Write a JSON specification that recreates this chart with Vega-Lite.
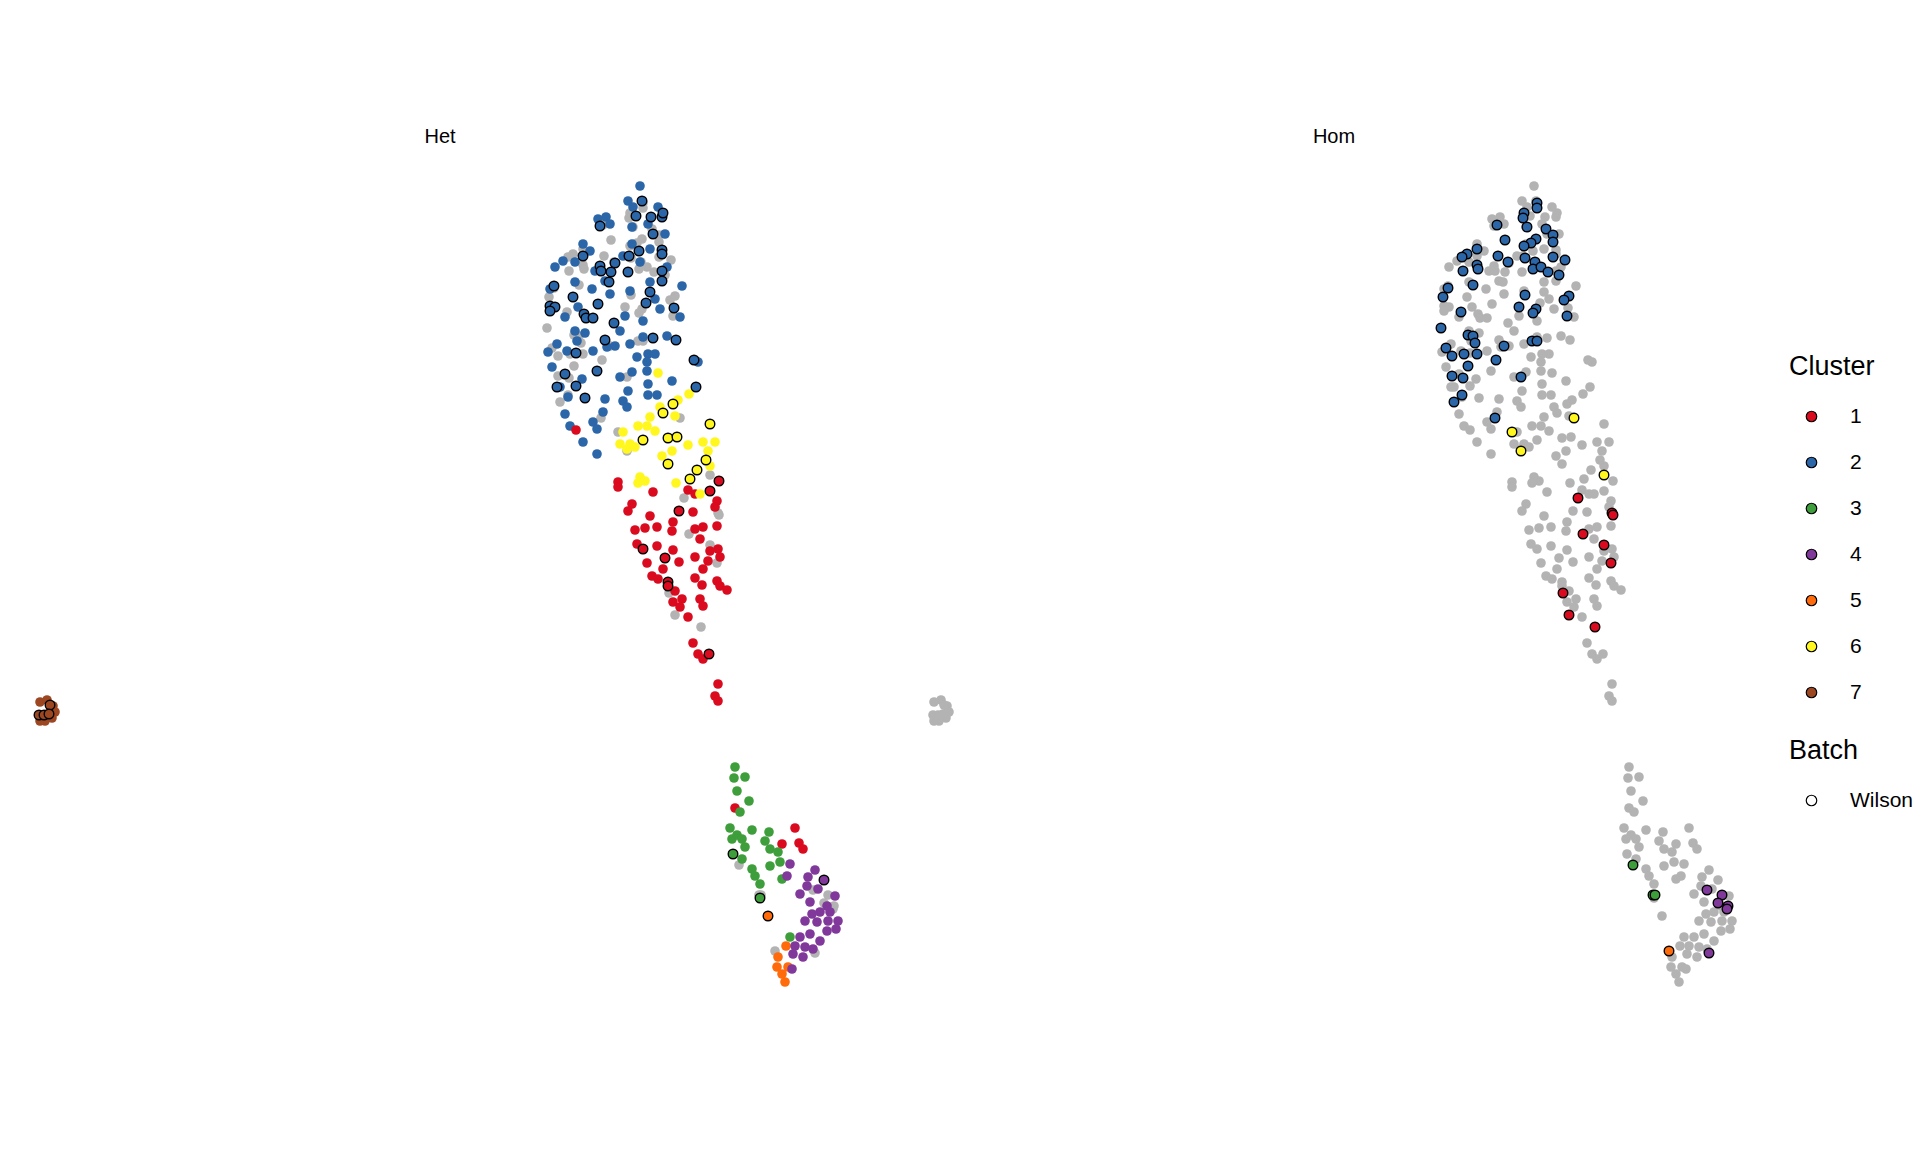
{
"$schema": "https://vega.github.io/schema/vega-lite/v6.json",
"background": "white",
"padding": {"left": 5, "top": 127, "right": 0, "bottom": 0},
"config": {
 "view": {"stroke": null},
 "font": "Liberation Sans",
 "concat": {"spacing": 24},
 "title": {"font": "Liberation Sans", "fontSize": 20, "fontWeight": "normal", "color": "black", "anchor": "middle", "offset": 12},
 "legend": {"titleFont": "Liberation Sans", "titleFontSize": 27, "titleFontWeight": "normal", "titleColor": "black", "labelFont": "Liberation Sans", "labelFontSize": 21, "labelColor": "black", "symbolSize": 110, "symbolType": "circle", "symbolOffset": 12, "labelOffset": 28, "rowPadding": 24, "titlePadding": 25, "symbolStrokeWidth": 1.2}
},
"datasets": {
"cells": [
{"g":"Het","x":640,"y":187,"c":2},{"g":"Het","x":628,"y":202,"c":2},{"g":"Het","x":633,"y":208,"c":2},{"g":"Het","x":658,"y":208,"c":2},{"g":"Het","x":598,"y":220,"c":2},{"g":"Het","x":606,"y":218,"c":2},{"g":"Het","x":610,"y":225,"c":2},{"g":"Het","x":632,"y":228,"c":2},{"g":"Het","x":648,"y":225,"c":2},{"g":"Het","x":665,"y":235,"c":2},{"g":"Het","x":583,"y":245,"c":2},{"g":"Het","x":632,"y":245,"c":2},{"g":"Het","x":650,"y":250,"c":2},{"g":"Het","x":555,"y":268,"c":2},{"g":"Het","x":563,"y":262,"c":2},{"g":"Het","x":575,"y":263,"c":2},{"g":"Het","x":590,"y":252,"c":2},{"g":"Het","x":623,"y":257,"c":2},{"g":"Het","x":640,"y":263,"c":2},{"g":"Het","x":667,"y":268,"c":2},{"g":"Het","x":595,"y":272,"c":2},{"g":"Het","x":575,"y":283,"c":2},{"g":"Het","x":605,"y":282,"c":2},{"g":"Het","x":650,"y":283,"c":2},{"g":"Het","x":682,"y":287,"c":2},{"g":"Het","x":550,"y":290,"c":2},{"g":"Het","x":592,"y":290,"c":2},{"g":"Het","x":610,"y":295,"c":2},{"g":"Het","x":630,"y":292,"c":2},{"g":"Het","x":655,"y":300,"c":2},{"g":"Het","x":578,"y":308,"c":2},{"g":"Het","x":660,"y":310,"c":2},{"g":"Het","x":625,"y":317,"c":2},{"g":"Het","x":643,"y":322,"c":2},{"g":"Het","x":680,"y":318,"c":2},{"g":"Het","x":565,"y":318,"c":2},
{"g":"Het","x":620,"y":332,"c":2},{"g":"Het","x":575,"y":332,"c":2},{"g":"Het","x":585,"y":334,"c":2},{"g":"Het","x":577,"y":342,"c":2},{"g":"Het","x":548,"y":353,"c":2},{"g":"Het","x":557,"y":345,"c":2},{"g":"Het","x":567,"y":352,"c":2},{"g":"Het","x":593,"y":352,"c":2},{"g":"Het","x":607,"y":348,"c":2},{"g":"Het","x":615,"y":347,"c":2},{"g":"Het","x":630,"y":345,"c":2},{"g":"Het","x":643,"y":338,"c":2},{"g":"Het","x":667,"y":337,"c":2},{"g":"Het","x":637,"y":358,"c":2},{"g":"Het","x":648,"y":355,"c":2},{"g":"Het","x":655,"y":355,"c":2},{"g":"Het","x":647,"y":363,"c":2},{"g":"Het","x":647,"y":372,"c":2},{"g":"Het","x":552,"y":368,"c":2},{"g":"Het","x":582,"y":380,"c":2},{"g":"Het","x":620,"y":378,"c":2},{"g":"Het","x":632,"y":373,"c":2},{"g":"Het","x":672,"y":382,"c":2},{"g":"Het","x":648,"y":385,"c":2},{"g":"Het","x":560,"y":388,"c":2},{"g":"Het","x":568,"y":398,"c":2},{"g":"Het","x":605,"y":400,"c":2},{"g":"Het","x":628,"y":392,"c":2},{"g":"Het","x":623,"y":402,"c":2},{"g":"Het","x":627,"y":408,"c":2},{"g":"Het","x":648,"y":396,"c":2},{"g":"Het","x":657,"y":396,"c":2},{"g":"Het","x":698,"y":363,"c":2},{"g":"Het","x":603,"y":413,"c":2},{"g":"Het","x":565,"y":415,"c":2},{"g":"Het","x":593,"y":423,"c":2},{"g":"Het","x":570,"y":427,"c":2},{"g":"Het","x":597,"y":430,"c":2},{"g":"Het","x":583,"y":443,"c":2},{"g":"Het","x":597,"y":455,"c":2},
{"g":"Het","x":642,"y":202,"c":2,"b":"Wilson"},{"g":"Het","x":636,"y":217,"c":2,"b":"Wilson"},{"g":"Het","x":651,"y":218,"c":2,"b":"Wilson"},{"g":"Het","x":662,"y":218,"c":2,"b":"Wilson"},{"g":"Het","x":663,"y":214,"c":2,"b":"Wilson"},{"g":"Het","x":600,"y":227,"c":2,"b":"Wilson"},{"g":"Het","x":653,"y":235,"c":2,"b":"Wilson"},{"g":"Het","x":639,"y":252,"c":2,"b":"Wilson"},{"g":"Het","x":629,"y":257,"c":2,"b":"Wilson"},{"g":"Het","x":662,"y":251,"c":2,"b":"Wilson"},{"g":"Het","x":662,"y":255,"c":2,"b":"Wilson"},{"g":"Het","x":583,"y":257,"c":2,"b":"Wilson"},{"g":"Het","x":600,"y":267,"c":2,"b":"Wilson"},{"g":"Het","x":615,"y":264,"c":2,"b":"Wilson"},{"g":"Het","x":601,"y":272,"c":2,"b":"Wilson"},{"g":"Het","x":611,"y":273,"c":2,"b":"Wilson"},{"g":"Het","x":628,"y":273,"c":2,"b":"Wilson"},{"g":"Het","x":609,"y":283,"c":2,"b":"Wilson"},{"g":"Het","x":662,"y":272,"c":2,"b":"Wilson"},{"g":"Het","x":662,"y":282,"c":2,"b":"Wilson"},{"g":"Het","x":554,"y":287,"c":2,"b":"Wilson"},{"g":"Het","x":573,"y":298,"c":2,"b":"Wilson"},{"g":"Het","x":650,"y":293,"c":2,"b":"Wilson"},{"g":"Het","x":598,"y":305,"c":2,"b":"Wilson"},{"g":"Het","x":646,"y":304,"c":2,"b":"Wilson"},{"g":"Het","x":674,"y":309,"c":2,"b":"Wilson"},{"g":"Het","x":550,"y":307,"c":2,"b":"Wilson"},{"g":"Het","x":555,"y":308,"c":2,"b":"Wilson"},{"g":"Het","x":550,"y":312,"c":2,"b":"Wilson"},{"g":"Het","x":584,"y":315,"c":2,"b":"Wilson"},{"g":"Het","x":586,"y":319,"c":2,"b":"Wilson"},{"g":"Het","x":593,"y":319,"c":2,"b":"Wilson"},{"g":"Het","x":614,"y":324,"c":2,"b":"Wilson"},{"g":"Het","x":605,"y":341,"c":2,"b":"Wilson"},{"g":"Het","x":653,"y":339,"c":2,"b":"Wilson"},{"g":"Het","x":676,"y":341,"c":2,"b":"Wilson"},{"g":"Het","x":576,"y":354,"c":2,"b":"Wilson"},{"g":"Het","x":597,"y":372,"c":2,"b":"Wilson"},{"g":"Het","x":565,"y":375,"c":2,"b":"Wilson"},{"g":"Het","x":557,"y":388,"c":2,"b":"Wilson"},{"g":"Het","x":576,"y":387,"c":2,"b":"Wilson"},{"g":"Het","x":585,"y":399,"c":2,"b":"Wilson"},{"g":"Het","x":694,"y":361,"c":2,"b":"Wilson"},{"g":"Het","x":696,"y":388,"c":2,"b":"Wilson"},
{"g":"Het","x":576,"y":431,"c":1},{"g":"Het","x":618,"y":483,"c":1},{"g":"Het","x":618,"y":488,"c":1},{"g":"Het","x":653,"y":493,"c":1},{"g":"Het","x":688,"y":491,"c":1},{"g":"Het","x":695,"y":495,"c":1},{"g":"Het","x":717,"y":502,"c":1},{"g":"Het","x":715,"y":508,"c":1},{"g":"Het","x":632,"y":505,"c":1},{"g":"Het","x":628,"y":512,"c":1},{"g":"Het","x":650,"y":517,"c":1},{"g":"Het","x":673,"y":523,"c":1},{"g":"Het","x":693,"y":513,"c":1},{"g":"Het","x":635,"y":531,"c":1},{"g":"Het","x":645,"y":529,"c":1},{"g":"Het","x":657,"y":528,"c":1},{"g":"Het","x":672,"y":532,"c":1},{"g":"Het","x":695,"y":530,"c":1},{"g":"Het","x":703,"y":528,"c":1},{"g":"Het","x":717,"y":527,"c":1},{"g":"Het","x":700,"y":540,"c":1},{"g":"Het","x":637,"y":545,"c":1},{"g":"Het","x":657,"y":547,"c":1},{"g":"Het","x":673,"y":551,"c":1},{"g":"Het","x":695,"y":558,"c":1},{"g":"Het","x":710,"y":552,"c":1},{"g":"Het","x":718,"y":550,"c":1},{"g":"Het","x":720,"y":558,"c":1},{"g":"Het","x":647,"y":564,"c":1},{"g":"Het","x":663,"y":570,"c":1},{"g":"Het","x":679,"y":563,"c":1},{"g":"Het","x":708,"y":562,"c":1},{"g":"Het","x":703,"y":570,"c":1},{"g":"Het","x":652,"y":577,"c":1},{"g":"Het","x":658,"y":580,"c":1},{"g":"Het","x":695,"y":579,"c":1},{"g":"Het","x":702,"y":586,"c":1},{"g":"Het","x":717,"y":582,"c":1},{"g":"Het","x":720,"y":587,"c":1},{"g":"Het","x":727,"y":591,"c":1},{"g":"Het","x":675,"y":592,"c":1},{"g":"Het","x":682,"y":600,"c":1},{"g":"Het","x":700,"y":600,"c":1},{"g":"Het","x":673,"y":603,"c":1},{"g":"Het","x":680,"y":608,"c":1},{"g":"Het","x":703,"y":607,"c":1},{"g":"Het","x":688,"y":618,"c":1},{"g":"Het","x":693,"y":644,"c":1},{"g":"Het","x":698,"y":655,"c":1},{"g":"Het","x":703,"y":660,"c":1},{"g":"Het","x":718,"y":685,"c":1},{"g":"Het","x":715,"y":697,"c":1},{"g":"Het","x":718,"y":702,"c":1},{"g":"Het","x":735,"y":809,"c":1},{"g":"Het","x":795,"y":829,"c":1},{"g":"Het","x":782,"y":845,"c":1},{"g":"Het","x":799,"y":844,"c":1},{"g":"Het","x":803,"y":850,"c":1},
{"g":"Het","x":719,"y":482,"c":1,"b":"Wilson"},{"g":"Het","x":710,"y":492,"c":1,"b":"Wilson"},{"g":"Het","x":679,"y":512,"c":1,"b":"Wilson"},{"g":"Het","x":643,"y":550,"c":1,"b":"Wilson"},{"g":"Het","x":665,"y":559,"c":1,"b":"Wilson"},{"g":"Het","x":668,"y":583,"c":1,"b":"Wilson"},{"g":"Het","x":668,"y":587,"c":1,"b":"Wilson"},{"g":"Het","x":709,"y":655,"c":1,"b":"Wilson"},
{"g":"Het","x":658,"y":374,"c":6},{"g":"Het","x":689,"y":395,"c":6},{"g":"Het","x":678,"y":401,"c":6},{"g":"Het","x":660,"y":408,"c":6},{"g":"Het","x":675,"y":417,"c":6},{"g":"Het","x":650,"y":418,"c":6},{"g":"Het","x":638,"y":427,"c":6},{"g":"Het","x":647,"y":427,"c":6},{"g":"Het","x":655,"y":432,"c":6},{"g":"Het","x":623,"y":433,"c":6},{"g":"Het","x":620,"y":445,"c":6},{"g":"Het","x":630,"y":445,"c":6},{"g":"Het","x":635,"y":448,"c":6},{"g":"Het","x":627,"y":450,"c":6},{"g":"Het","x":672,"y":452,"c":6},{"g":"Het","x":662,"y":457,"c":6},{"g":"Het","x":688,"y":446,"c":6},{"g":"Het","x":703,"y":443,"c":6},{"g":"Het","x":715,"y":443,"c":6},{"g":"Het","x":708,"y":452,"c":6},{"g":"Het","x":710,"y":467,"c":6},{"g":"Het","x":640,"y":478,"c":6},{"g":"Het","x":645,"y":482,"c":6},{"g":"Het","x":638,"y":484,"c":6},{"g":"Het","x":676,"y":484,"c":6},{"g":"Het","x":700,"y":495,"c":6},
{"g":"Het","x":673,"y":405,"c":6,"b":"Wilson"},{"g":"Het","x":663,"y":414,"c":6,"b":"Wilson"},{"g":"Het","x":710,"y":425,"c":6,"b":"Wilson"},{"g":"Het","x":643,"y":441,"c":6,"b":"Wilson"},{"g":"Het","x":668,"y":439,"c":6,"b":"Wilson"},{"g":"Het","x":677,"y":438,"c":6,"b":"Wilson"},{"g":"Het","x":706,"y":461,"c":6,"b":"Wilson"},{"g":"Het","x":668,"y":465,"c":6,"b":"Wilson"},{"g":"Het","x":697,"y":471,"c":6,"b":"Wilson"},{"g":"Het","x":690,"y":480,"c":6,"b":"Wilson"},
{"g":"Het","x":735,"y":768,"c":3},{"g":"Het","x":734,"y":779,"c":3},{"g":"Het","x":745,"y":778,"c":3},{"g":"Het","x":737,"y":792,"c":3},{"g":"Het","x":749,"y":802,"c":3},{"g":"Het","x":740,"y":813,"c":3},{"g":"Het","x":730,"y":829,"c":3},{"g":"Het","x":737,"y":836,"c":3},{"g":"Het","x":742,"y":840,"c":3},{"g":"Het","x":732,"y":840,"c":3},{"g":"Het","x":745,"y":848,"c":3},{"g":"Het","x":742,"y":860,"c":3},{"g":"Het","x":752,"y":831,"c":3},{"g":"Het","x":769,"y":833,"c":3},{"g":"Het","x":765,"y":842,"c":3},{"g":"Het","x":770,"y":850,"c":3},{"g":"Het","x":778,"y":853,"c":3},{"g":"Het","x":780,"y":863,"c":3},{"g":"Het","x":770,"y":867,"c":3},{"g":"Het","x":752,"y":870,"c":3},{"g":"Het","x":755,"y":877,"c":3},{"g":"Het","x":760,"y":885,"c":3},{"g":"Het","x":782,"y":880,"c":3},{"g":"Het","x":790,"y":938,"c":3},
{"g":"Het","x":733,"y":855,"c":3,"b":"Wilson"},{"g":"Het","x":760,"y":899,"c":3,"b":"Wilson"},
{"g":"Het","x":786,"y":947,"c":5},{"g":"Het","x":778,"y":958,"c":5},{"g":"Het","x":777,"y":968,"c":5},{"g":"Het","x":788,"y":968,"c":5},{"g":"Het","x":782,"y":975,"c":5},{"g":"Het","x":785,"y":983,"c":5},
{"g":"Het","x":768,"y":917,"c":5,"b":"Wilson"},
{"g":"Het","x":790,"y":865,"c":4},{"g":"Het","x":787,"y":877,"c":4},{"g":"Het","x":815,"y":871,"c":4},{"g":"Het","x":808,"y":878,"c":4},{"g":"Het","x":807,"y":887,"c":4},{"g":"Het","x":818,"y":890,"c":4},{"g":"Het","x":835,"y":897,"c":4},{"g":"Het","x":810,"y":903,"c":4},{"g":"Het","x":827,"y":907,"c":4},{"g":"Het","x":820,"y":913,"c":4},{"g":"Het","x":830,"y":913,"c":4},{"g":"Het","x":817,"y":923,"c":4},{"g":"Het","x":805,"y":922,"c":4},{"g":"Het","x":828,"y":922,"c":4},{"g":"Het","x":838,"y":922,"c":4},{"g":"Het","x":827,"y":932,"c":4},{"g":"Het","x":800,"y":938,"c":4},{"g":"Het","x":810,"y":935,"c":4},{"g":"Het","x":820,"y":942,"c":4},{"g":"Het","x":795,"y":947,"c":4},{"g":"Het","x":805,"y":948,"c":4},{"g":"Het","x":813,"y":950,"c":4},{"g":"Het","x":793,"y":955,"c":4},{"g":"Het","x":803,"y":958,"c":4},{"g":"Het","x":792,"y":970,"c":4},{"g":"Het","x":800,"y":895,"c":4},{"g":"Het","x":812,"y":915,"c":4},{"g":"Het","x":836,"y":930,"c":4},
{"g":"Het","x":824,"y":881,"c":4,"b":"Wilson"},
{"g":"Het","x":40,"y":703,"c":7},{"g":"Het","x":47,"y":701,"c":7},{"g":"Het","x":53,"y":707,"c":7},{"g":"Het","x":55,"y":713,"c":7},{"g":"Het","x":40,"y":722,"c":7},{"g":"Het","x":45,"y":722,"c":7},{"g":"Het","x":52,"y":719,"c":7},
{"g":"Het","x":50,"y":706,"c":7,"b":"Wilson"},{"g":"Het","x":39,"y":716,"c":7,"b":"Wilson"},{"g":"Het","x":44,"y":716,"c":7,"b":"Wilson"},{"g":"Het","x":49,"y":715,"c":7,"b":"Wilson"},
{"g":"Hom","x":643,"y":204,"c":2,"b":"Wilson"},{"g":"Hom","x":643,"y":209,"c":2,"b":"Wilson"},{"g":"Hom","x":630,"y":214,"c":2,"b":"Wilson"},{"g":"Hom","x":629,"y":219,"c":2,"b":"Wilson"},{"g":"Hom","x":603,"y":226,"c":2,"b":"Wilson"},{"g":"Hom","x":633,"y":228,"c":2,"b":"Wilson"},{"g":"Hom","x":652,"y":230,"c":2,"b":"Wilson"},{"g":"Hom","x":659,"y":236,"c":2,"b":"Wilson"},{"g":"Hom","x":659,"y":243,"c":2,"b":"Wilson"},{"g":"Hom","x":611,"y":241,"c":2,"b":"Wilson"},{"g":"Hom","x":642,"y":240,"c":2,"b":"Wilson"},{"g":"Hom","x":637,"y":244,"c":2,"b":"Wilson"},{"g":"Hom","x":630,"y":247,"c":2,"b":"Wilson"},{"g":"Hom","x":583,"y":250,"c":2,"b":"Wilson"},{"g":"Hom","x":573,"y":255,"c":2,"b":"Wilson"},{"g":"Hom","x":568,"y":258,"c":2,"b":"Wilson"},{"g":"Hom","x":604,"y":257,"c":2,"b":"Wilson"},{"g":"Hom","x":614,"y":263,"c":2,"b":"Wilson"},{"g":"Hom","x":631,"y":259,"c":2,"b":"Wilson"},{"g":"Hom","x":641,"y":263,"c":2,"b":"Wilson"},{"g":"Hom","x":659,"y":258,"c":2,"b":"Wilson"},{"g":"Hom","x":671,"y":261,"c":2,"b":"Wilson"},{"g":"Hom","x":583,"y":266,"c":2,"b":"Wilson"},{"g":"Hom","x":584,"y":270,"c":2,"b":"Wilson"},{"g":"Hom","x":569,"y":272,"c":2,"b":"Wilson"},{"g":"Hom","x":639,"y":270,"c":2,"b":"Wilson"},{"g":"Hom","x":647,"y":268,"c":2,"b":"Wilson"},{"g":"Hom","x":654,"y":273,"c":2,"b":"Wilson"},{"g":"Hom","x":665,"y":276,"c":2,"b":"Wilson"},{"g":"Hom","x":579,"y":286,"c":2,"b":"Wilson"},{"g":"Hom","x":554,"y":289,"c":2,"b":"Wilson"},{"g":"Hom","x":549,"y":298,"c":2,"b":"Wilson"},{"g":"Hom","x":631,"y":296,"c":2,"b":"Wilson"},{"g":"Hom","x":675,"y":297,"c":2,"b":"Wilson"},{"g":"Hom","x":670,"y":301,"c":2,"b":"Wilson"},{"g":"Hom","x":625,"y":308,"c":2,"b":"Wilson"},{"g":"Hom","x":642,"y":310,"c":2,"b":"Wilson"},{"g":"Hom","x":639,"y":314,"c":2,"b":"Wilson"},{"g":"Hom","x":673,"y":317,"c":2,"b":"Wilson"},{"g":"Hom","x":567,"y":313,"c":2,"b":"Wilson"},{"g":"Hom","x":547,"y":329,"c":2,"b":"Wilson"},{"g":"Hom","x":574,"y":336,"c":2,"b":"Wilson"},{"g":"Hom","x":579,"y":337,"c":2,"b":"Wilson"},{"g":"Hom","x":581,"y":344,"c":2,"b":"Wilson"},{"g":"Hom","x":552,"y":349,"c":2,"b":"Wilson"},{"g":"Hom","x":558,"y":357,"c":2,"b":"Wilson"},{"g":"Hom","x":570,"y":355,"c":2,"b":"Wilson"},{"g":"Hom","x":583,"y":355,"c":2,"b":"Wilson"},{"g":"Hom","x":610,"y":347,"c":2,"b":"Wilson"},{"g":"Hom","x":638,"y":342,"c":2,"b":"Wilson"},{"g":"Hom","x":643,"y":342,"c":2,"b":"Wilson"},{"g":"Hom","x":602,"y":361,"c":2,"b":"Wilson"},{"g":"Hom","x":574,"y":367,"c":2,"b":"Wilson"},{"g":"Hom","x":558,"y":377,"c":2,"b":"Wilson"},{"g":"Hom","x":569,"y":379,"c":2,"b":"Wilson"},{"g":"Hom","x":627,"y":378,"c":2,"b":"Wilson"},{"g":"Hom","x":568,"y":396,"c":2,"b":"Wilson"},{"g":"Hom","x":560,"y":403,"c":2,"b":"Wilson"},{"g":"Hom","x":601,"y":419,"c":2,"b":"Wilson"},
{"g":"Hom","x":680,"y":419,"c":6,"b":"Wilson"},{"g":"Hom","x":618,"y":433,"c":6,"b":"Wilson"},{"g":"Hom","x":627,"y":452,"c":6,"b":"Wilson"},{"g":"Hom","x":710,"y":476,"c":6,"b":"Wilson"},
{"g":"Hom","x":684,"y":499,"c":1,"b":"Wilson"},{"g":"Hom","x":718,"y":514,"c":1,"b":"Wilson"},{"g":"Hom","x":719,"y":516,"c":1,"b":"Wilson"},{"g":"Hom","x":689,"y":535,"c":1,"b":"Wilson"},{"g":"Hom","x":710,"y":546,"c":1,"b":"Wilson"},{"g":"Hom","x":717,"y":564,"c":1,"b":"Wilson"},{"g":"Hom","x":669,"y":594,"c":1,"b":"Wilson"},{"g":"Hom","x":675,"y":616,"c":1,"b":"Wilson"},{"g":"Hom","x":701,"y":628,"c":1,"b":"Wilson"},
{"g":"Hom","x":739,"y":866,"c":3,"b":"Wilson"},{"g":"Hom","x":759,"y":896,"c":3,"b":"Wilson"},{"g":"Hom","x":761,"y":896,"c":3,"b":"Wilson"},
{"g":"Hom","x":813,"y":891,"c":4,"b":"Wilson"},{"g":"Hom","x":828,"y":896,"c":4,"b":"Wilson"},{"g":"Hom","x":824,"y":904,"c":4,"b":"Wilson"},{"g":"Hom","x":834,"y":907,"c":4,"b":"Wilson"},{"g":"Hom","x":833,"y":910,"c":4,"b":"Wilson"},{"g":"Hom","x":815,"y":954,"c":4,"b":"Wilson"},
{"g":"Hom","x":775,"y":952,"c":5,"b":"Wilson"}
]
},
"data": {"name": "cells"},
"hconcat": [
 {
  "width": 870, "height": 850,
  "title": {"text": "Het"},
  "encoding": {
   "x": {"field": "x", "type": "quantitative", "scale": {"domain": [5, 875], "nice": false, "zero": false}, "axis": null},
   "y": {"field": "y", "type": "quantitative", "scale": {"domain": [160, 1010], "reverse": true, "nice": false, "zero": false}, "axis": null}
  },
  "layer": [
   {"transform": [{"filter": "datum.g == 'Hom'"}],
    "mark": {"type": "circle", "size": 92, "opacity": 1, "color": "#B3B3B3"}},
   {"transform": [{"filter": "datum.g == 'Het' && !datum.b"}],
    "mark": {"type": "circle", "size": 92, "opacity": 1},
    "encoding": {"fill": {"field": "c", "type": "nominal", "scale": {"domain": [1,2,3,4,5,6,7], "range": ["#DA0A1F","#2B66A8","#3E9E3B","#80399A","#FF6A0A","#FFF71E","#9C4722"]},
      "legend": {"title": "Cluster", "orient": "none", "legendX": 1784, "legendY": 195, "symbolStrokeColor": "black"}}}},
   {"transform": [{"filter": "datum.g == 'Het' && datum.b"}],
    "mark": {"type": "circle", "size": 92, "opacity": 1, "strokeWidth": 1.4},
    "encoding": {"fill": {"field": "c", "type": "nominal", "scale": {"domain": [1,2,3,4,5,6,7], "range": ["#DA0A1F","#2B66A8","#3E9E3B","#80399A","#FF6A0A","#FFF71E","#9C4722"]},
      "legend": {"title": "Cluster", "orient": "none", "legendX": 1784, "legendY": 195, "symbolStrokeColor": "black"}},
     "stroke": {"field": "b", "type": "nominal", "scale": {"domain": ["Wilson"], "range": ["black"]},
      "legend": {"title": "Batch", "orient": "none", "legendX": 1784, "legendY": 579, "symbolFillColor": "white"}}}}
  ]
 },
 {
  "width": 870, "height": 850,
  "title": {"text": "Hom"},
  "encoding": {
   "x": {"field": "x", "type": "quantitative", "scale": {"domain": [5, 875], "nice": false, "zero": false}, "axis": null},
   "y": {"field": "y", "type": "quantitative", "scale": {"domain": [160, 1010], "reverse": true, "nice": false, "zero": false}, "axis": null}
  },
  "layer": [
   {"transform": [{"filter": "datum.g == 'Het'"}],
    "mark": {"type": "circle", "size": 92, "opacity": 1, "color": "#B3B3B3"}},
   {"transform": [{"filter": "datum.g == 'Hom' && datum.b"}],
    "mark": {"type": "circle", "size": 92, "opacity": 1, "strokeWidth": 1.4},
    "encoding": {"fill": {"field": "c", "type": "nominal", "scale": {"domain": [1,2,3,4,5,6,7], "range": ["#DA0A1F","#2B66A8","#3E9E3B","#80399A","#FF6A0A","#FFF71E","#9C4722"]},
      "legend": {"title": "Cluster", "orient": "none", "legendX": 1784, "legendY": 195, "symbolStrokeColor": "black"}},
     "stroke": {"field": "b", "type": "nominal", "scale": {"domain": ["Wilson"], "range": ["black"]},
      "legend": {"title": "Batch", "orient": "none", "legendX": 1784, "legendY": 579, "symbolFillColor": "white"}}}}
  ]
 }
],
"resolve": {"scale": {"x": "shared", "y": "shared"}}
}
